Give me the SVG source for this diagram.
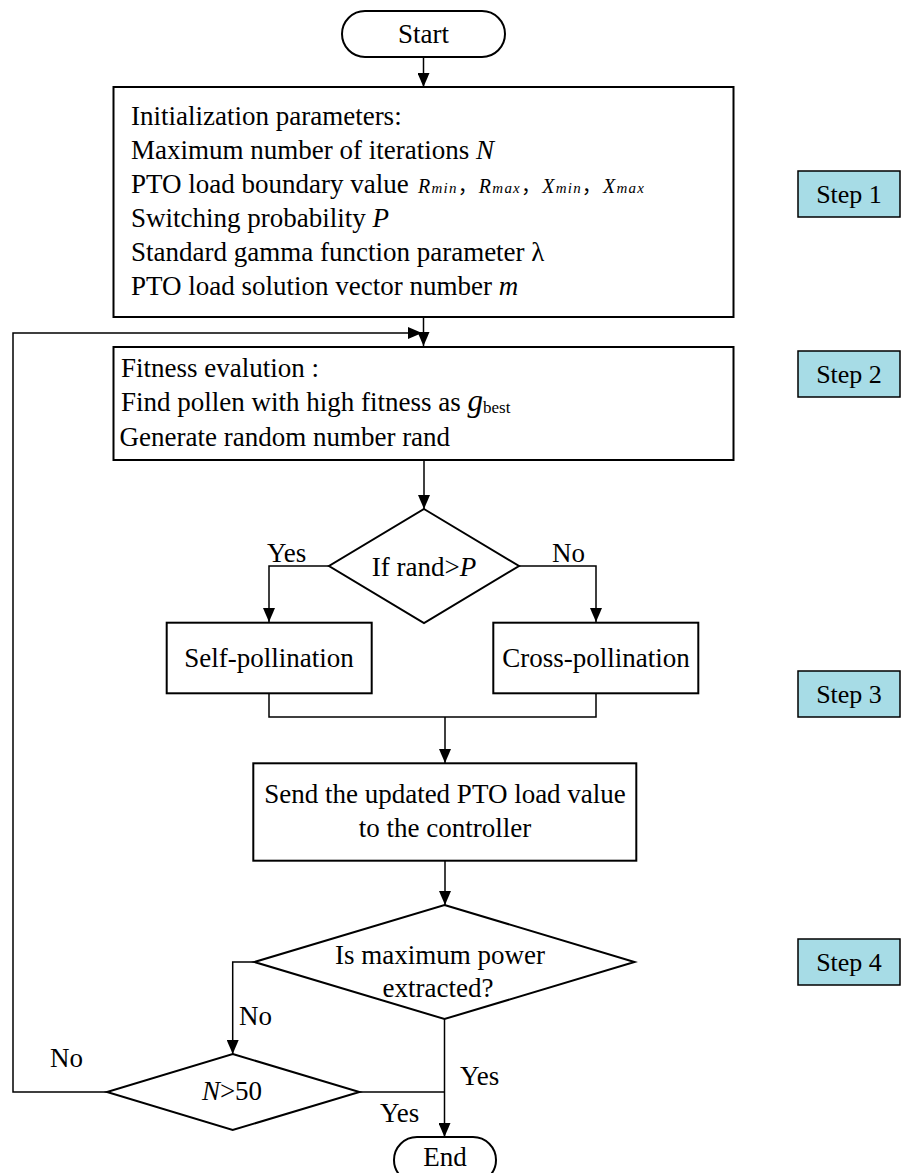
<svg xmlns="http://www.w3.org/2000/svg" width="901" height="1173" viewBox="0 0 901 1173" font-family="'Liberation Serif','Times New Roman',serif">
<style>
text{font-family:"Liberation Serif","Times New Roman",serif;fill:#000}
.t{font-size:27px}
.c{text-anchor:middle}
.i{font-style:italic}
.box{fill:#fff;stroke:#000;stroke-width:2}
.step{fill:#a7dce6;stroke:#000;stroke-width:1.5}
.ln{fill:none;stroke:#000;stroke-width:1.5}
.st{font-size:26px}
.cj{font-style:normal;font-family:"Noto Sans CJK SC",sans-serif}
</style>
<defs>
<marker id="ah" markerWidth="14" markerHeight="12" viewBox="0 0 14 12" refX="14" refY="6" orient="auto" markerUnits="userSpaceOnUse"><path d="M0,0 L14,6 L0,12 z" fill="#000"/></marker>
</defs>
<g id="connectors">
<path class="ln" d="M423.5,57 V87" marker-end="url(#ah)"/>
<path class="ln" d="M423.5,317 V346" marker-end="url(#ah)"/>
<path class="ln" d="M107,1092 H13 V333 H422" marker-end="url(#ah)"/>
<path class="ln" d="M424,460 V509" marker-end="url(#ah)"/>
<path class="ln" d="M329,566 H269 V622" marker-end="url(#ah)"/>
<path class="ln" d="M519,566 H596 V622" marker-end="url(#ah)"/>
<path class="ln" d="M269,693 V717 H596 V693"/>
<path class="ln" d="M445,717 V763" marker-end="url(#ah)"/>
<path class="ln" d="M445,861 V905" marker-end="url(#ah)"/>
<path class="ln" d="M254.5,962 H232.7 V1054" marker-end="url(#ah)"/>
<path class="ln" d="M444.5,1019 V1137" marker-end="url(#ah)"/>
<path class="ln" d="M359.4,1092 H444.5"/>
<text class="t" x="267" y="562">Yes</text>
<text class="t" x="552" y="562">No</text>
<text class="t" x="239" y="1025">No</text>
<text class="t" x="50" y="1067">No</text>
<text class="t" x="460" y="1085">Yes</text>
<text class="t" x="380" y="1122">Yes</text>
</g>
<g id="start">
<rect class="box" x="342" y="11" width="163" height="46" rx="23"/>
<text class="t c" x="423.5" y="43">Start</text>
</g>
<g id="init">
<rect class="box" x="113.5" y="87" width="620" height="230"/>
<text class="t" x="131" y="125">Initialization parameters:</text>
<text class="t" x="131" y="159">Maximum number of iterations <tspan class="i">N</tspan></text>
<text class="t" x="131" y="193">PTO load boundary value</text>
<text x="418" y="193" font-style="italic" font-size="20px" textLength="226" lengthAdjust="spacing">R<tspan font-size="15px">min</tspan><tspan class="cj">，</tspan>R<tspan font-size="15px">max</tspan><tspan class="cj">，</tspan>X<tspan font-size="15px">min</tspan><tspan class="cj">，</tspan>X<tspan font-size="15px">max</tspan></text>
<text class="t" x="131" y="227">Switching probability <tspan class="i">P</tspan></text>
<text class="t" x="131" y="261">Standard gamma function parameter λ</text>
<text class="t" x="131" y="295">PTO load solution vector number <tspan class="i">m</tspan></text>
</g>
<g id="fitness">
<rect class="box" x="113.5" y="347" width="620" height="113"/>
<text class="t" x="121" y="377">Fitness evalution :</text>
<text class="t" x="121" y="411">Find pollen with high fitness as <tspan class="i" font-size="31px">g</tspan><tspan font-size="17px" dy="2">best</tspan></text>
<text class="t" x="119.5" y="446">Generate random number rand</text>
</g>
<g id="decision1">
<polygon class="box" points="424,509 519,566 424,623 329,566"/>
<text class="t c" x="424" y="576">If rand&gt;<tspan class="i">P</tspan></text>
</g>
<g id="self">
<rect class="box" x="166.7" y="622.7" width="205" height="70.6"/>
<text class="t c" x="269" y="667">Self-pollination</text>
</g>
<g id="cross">
<rect class="box" x="493.3" y="622.7" width="205" height="70.6"/>
<text class="t c" x="596" y="667">Cross-pollination</text>
</g>
<g id="send">
<rect class="box" x="253.3" y="763.3" width="383" height="97.4"/>
<text class="t c" x="445" y="803">Send the updated PTO load value</text>
<text class="t c" x="445" y="837">to the controller</text>
</g>
<g id="decision2">
<polygon class="box" points="444.5,905 634.5,962 444.5,1019 254.5,962"/>
<text class="t c" x="440" y="964">Is maximum power</text>
<text class="t c" x="438" y="997">extracted?</text>
</g>
<g id="decision3">
<polygon class="box" points="232.7,1054 359.4,1092 232.7,1130 107,1092"/>
<text class="t c" x="232" y="1100"><tspan class="i">N</tspan>&gt;50</text>
</g>
<g id="end">
<rect class="box" x="394" y="1137" width="102" height="46" rx="23"/>
<text class="t c" x="445" y="1166">End</text>
</g>
<g id="step1"><rect class="step" x="798" y="171" width="102" height="46"/><text class="st c" x="849" y="203">Step 1</text></g>
<g id="step2"><rect class="step" x="798" y="351" width="102" height="46"/><text class="st c" x="849" y="383">Step 2</text></g>
<g id="step3"><rect class="step" x="798" y="671" width="102" height="46"/><text class="st c" x="849" y="703">Step 3</text></g>
<g id="step4"><rect class="step" x="798" y="939" width="102" height="46"/><text class="st c" x="849" y="971">Step 4</text></g>
</svg>
